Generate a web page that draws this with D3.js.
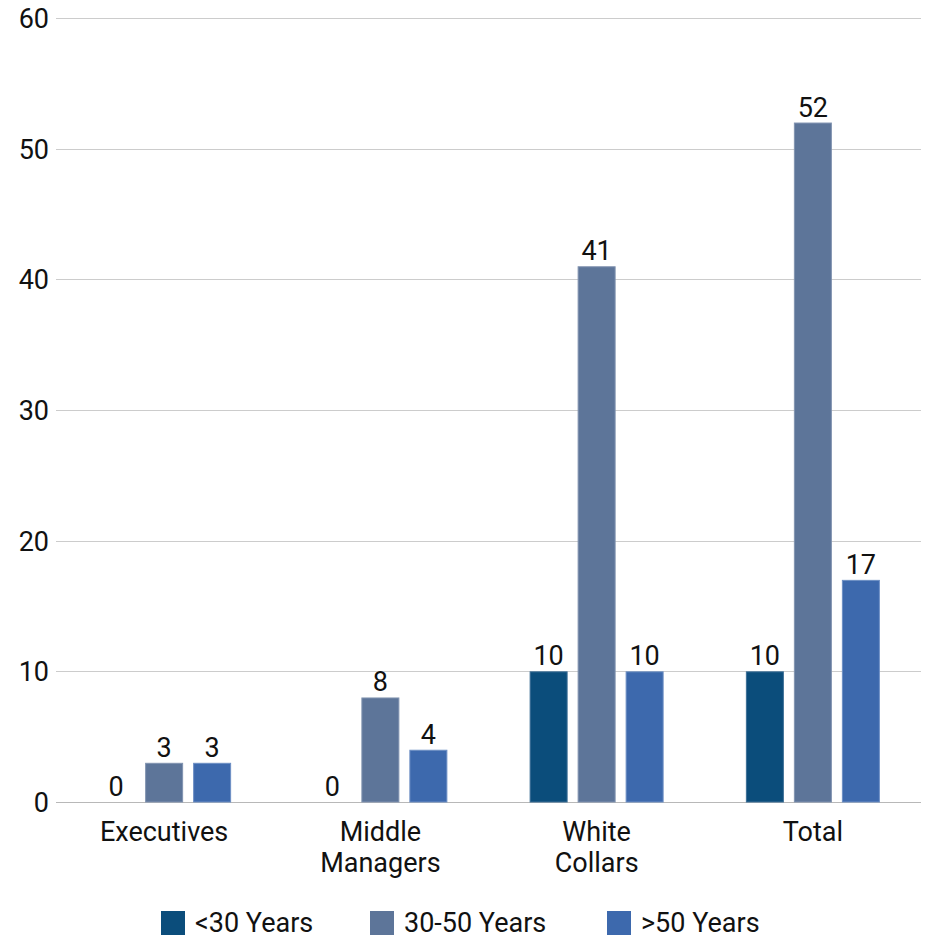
<!DOCTYPE html>
<html>
<head>
<meta charset="utf-8">
<script src="https://cdn.jsdelivr.net/npm/d3@7"></script>
<style>
  html, body { margin: 0; padding: 0; background: #fff; }
  svg { display: block; font-family: Roboto, "Noto Sans", sans-serif; }
</style>
</head>
<body>
<svg id="chart" width="930" height="939"></svg>
<script>
// Employees by category and age group
const categories = [["Executives"], ["Middle", "Managers"], ["White", "Collars"], ["Total"]];
const seriesNames = ["<30 Years", "30-50 Years", ">50 Years"];
const under30 = [0, 0, 10, 10];
const from30to50 = [3, 8, 41, 52];
const over50 = [3, 4, 10, 17];
const yTicks = [0, 10, 20, 30, 40, 50, 60];
const colors = ["#0b4d7b", "#5d7599", "#3d69ad"];
const strokes = ["#3d6f96", "#8193b0", "#6d8fc4"];

const series = [under30, from30to50, over50];

const svg = d3.select("#chart");
const margin = { left: 56, right: 9, top: 18, bottom: 137 };
const W = 930, H = 939;
const fs = 27;

const x = d3.scaleBand()
  .domain(d3.range(categories.length))
  .range([margin.left, W - margin.right]);

const y = d3.scaleLinear()
  .domain([0, 60])
  .range([H - margin.bottom, margin.top]);

const barW = 38, barStep = 48;
const xs = d3.scaleBand().domain(d3.range(series.length)).range([0, barStep * 3]);
const groupW = barStep * 3 - (barStep - barW);
const barX = (i, si) => x(i) + x.bandwidth() / 2 - groupW / 2 + xs(si);

// Gridlines
svg.append("g")
  .selectAll("line")
  .data(yTicks)
  .join("line")
  .attr("x1", margin.left)
  .attr("x2", W - margin.right)
  .attr("y1", d => Math.round(y(d)) + 0.5)
  .attr("y2", d => Math.round(y(d)) + 0.5)
  .attr("stroke", d => d === 0 ? "#b8b8b8" : "#cccccc")
  .attr("stroke-width", 1);

// Y axis labels
const yAxis = d3.axisLeft(y).tickValues(yTicks).tickSize(0).tickPadding(0);
const yg = svg.append("g")
  .attr("transform", `translate(${margin.left - 7},0)`)
  .call(yAxis);
yg.select(".domain").remove();
yg.selectAll("text")
  .attr("font-family", "Roboto, sans-serif")
  .attr("font-size", fs)
  .attr("fill", "#111")
  .attr("dy", "0.35em");

// Bars with value labels
series.forEach((vals, si) => {
  const g = svg.append("g");
  g.selectAll("rect")
    .data(vals)
    .join("rect")
    .attr("x", (d, i) => barX(i, si) + 0.5)
    .attr("y", d => y(d) + 0.5)
    .attr("width", barW - 1)
    .attr("height", d => Math.max(0, y(0) - y(d) - 0.5))
    .attr("fill", colors[si])
    .attr("stroke", strokes[si])
    .attr("stroke-width", d => d > 0 ? 1 : 0);

  g.selectAll("text")
    .data(vals)
    .join("text")
    .attr("x", (d, i) => barX(i, si) + barW / 2)
    .attr("y", d => y(d) - 6)
    .attr("text-anchor", "middle")
    .attr("font-size", fs)
    .attr("fill", "#111")
    .text(d => d);
});

// Category labels
const cat = svg.append("g");
categories.forEach((lines, i) => {
  const cx = x(i) + x.bandwidth() / 2;
  const t = cat.append("text")
    .attr("x", cx)
    .attr("y", 841)
    .attr("text-anchor", "middle")
    .attr("font-size", fs)
    .attr("fill", "#111");
  lines.forEach((ln, k) => {
    t.append("tspan")
      .attr("x", cx)
      .attr("dy", k === 0 ? 0 : 31)
      .text(ln);
  });
});

// Legend
const legendX = [161, 370, 607];
const items = svg.append("g").selectAll("g")
  .data(seriesNames)
  .join("g")
  .attr("transform", (d, i) => `translate(${legendX[i]},0)`);
items.append("rect")
  .attr("width", 24)
  .attr("height", 24)
  .attr("y", 911)
  .attr("fill", (d, i) => colors[i]);
items.append("text")
  .attr("x", 34)
  .attr("y", 932)
  .attr("font-size", fs)
  .attr("fill", "#111")
  .text(d => d);
</script>
</body>
</html>
